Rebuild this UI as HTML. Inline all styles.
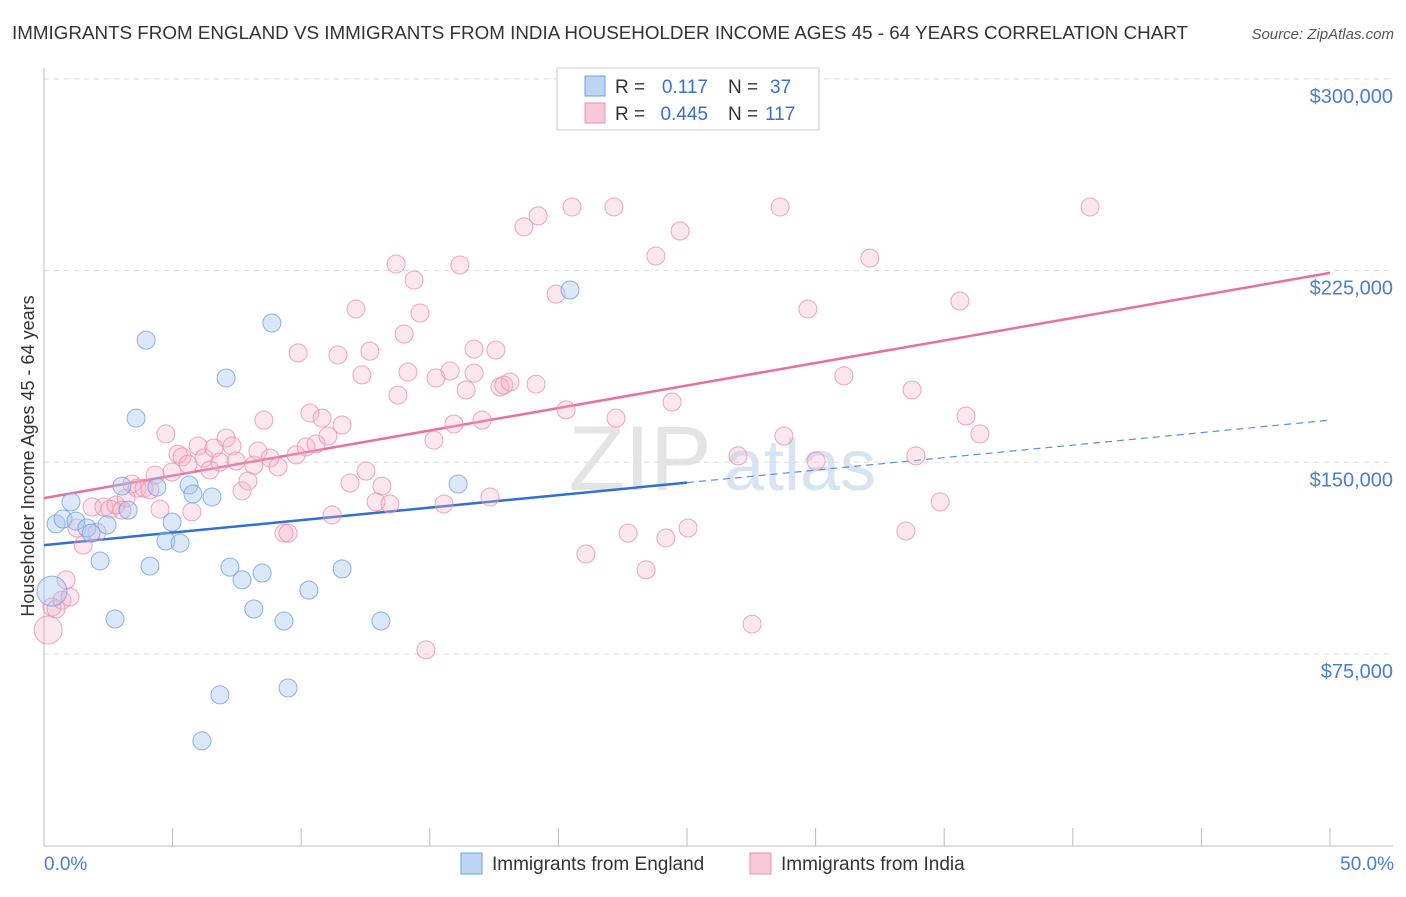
<!DOCTYPE html>
<html><head><meta charset="utf-8"><style>
body{margin:0;background:#fff;font-family:"Liberation Sans",sans-serif;}
svg text{font-family:"Liberation Sans",sans-serif;}
</style></head><body>
<svg id="chart" width="1406" height="892">
<text x="12" y="39" font-size="18" fill="#333" textLength="1176" lengthAdjust="spacingAndGlyphs">IMMIGRANTS FROM ENGLAND VS IMMIGRANTS FROM INDIA HOUSEHOLDER INCOME AGES 45 - 64 YEARS CORRELATION CHART</text>
<text x="1394" y="39" font-size="15" fill="#555" text-anchor="end" font-style="italic">Source: ZipAtlas.com</text>
<text x="640" y="490" font-size="92" fill="#e4e4e4" text-anchor="middle" font-family="Liberation Serif">ZIP</text>
<text x="800" y="490" font-size="72" fill="#d6e4f4" text-anchor="middle">atlas</text>
<g id="grid"></g><g id="axes"></g><g id="trend"></g><g id="pts"></g>
<text transform="translate(34,456) rotate(-90)" font-size="18" fill="#333" text-anchor="middle">Householder Income Ages 45 - 64 years</text>
<text x="44" y="870" font-size="19" fill="#4a7fd0">0.0%</text>
<text x="1394" y="870" font-size="19" fill="#4a7fd0" text-anchor="end">50.0%</text>
<g>
<rect x="557" y="68" width="262" height="62" fill="#fff" stroke="#ccc"/>
<rect x="585" y="76" width="20" height="20" fill="#bcd5f5" stroke="#6fa0e0"/>
<rect x="585" y="103" width="20" height="20" fill="#f9c8d8" stroke="#ec8fb0"/>
<text x="615" y="93" font-size="19" fill="#333">R = </text><text x="708" y="93" font-size="19" fill="#3a70c8" text-anchor="end">0.117</text>
<text x="728" y="93" font-size="19" fill="#333">N = </text><text x="770" y="93" font-size="19" fill="#3a70c8">37</text>
<text x="615" y="120" font-size="19" fill="#333">R = </text><text x="708" y="120" font-size="19" fill="#3a70c8" text-anchor="end">0.445</text>
<text x="728" y="120" font-size="19" fill="#333">N = </text><text x="765" y="120" font-size="19" fill="#3a70c8">117</text>
</g>
<g><rect x="461" y="853" width="21" height="21" fill="#bcd5f5" stroke="#6fa0e0"/><text x="492" y="870" font-size="19" fill="#333">Immigrants from England</text></g>
<g><rect x="750" y="853" width="21" height="21" fill="#f9c8d8" stroke="#ec8fb0"/><text x="781" y="870" font-size="19" fill="#333">Immigrants from India</text></g>
</svg>
<script>
const yTicks=[75,150,225,300];
const yTickLabels=["$75,000","$150,000","$225,000","$300,000"];
const xTicks=[0,5,10,15,20,25,30,35,40,45,50];
const engX=[0.31,0.47,0.74,1.05,1.24,1.67,1.83,2.18,2.45,2.76,3.03,3.27,3.58,3.97,4.12,4.39,4.74,4.98,5.29,5.64,5.79,6.53,6.84,7.08,7.23,7.70,8.16,8.48,8.86,9.33,9.49,10.30,11.59,13.10,16.10,20.45,6.14];
const engY=[99.6,125.9,127.8,134.5,127.0,124.3,122.3,111.4,125.5,88.7,140.7,131.3,167.3,197.8,109.4,140.3,119.2,126.6,118.4,141.1,137.6,136.4,59.0,183.0,109.0,104.0,92.6,106.7,204.5,87.9,61.7,100.0,108.3,87.9,141.5,217.4,41.0];
const indX=[0.16,0.31,0.47,0.70,0.86,1.01,1.28,1.52,1.87,2.06,2.33,2.57,2.80,3.03,3.19,3.42,3.62,3.89,4.12,4.32,4.51,4.74,4.98,5.21,5.37,5.60,5.75,5.99,6.22,6.45,6.61,6.84,7.08,7.31,7.47,7.70,7.93,8.16,8.32,8.55,8.79,9.10,9.33,9.49,9.80,9.88,10.19,10.34,10.58,10.81,11.04,11.20,11.43,11.59,11.90,12.13,12.36,12.52,12.67,12.91,13.14,13.45,13.69,13.76,14.00,14.15,14.39,14.62,14.85,15.16,15.24,15.55,15.79,15.94,16.17,16.41,16.72,16.72,17.03,17.34,17.57,17.73,17.88,18.12,18.66,19.13,19.21,19.91,20.30,20.53,21.07,22.16,22.24,22.71,23.41,23.79,24.18,24.42,24.73,25.04,26.98,27.53,28.62,28.77,29.70,30.02,31.10,32.11,33.51,33.75,33.90,34.84,35.61,35.85,36.39,40.67];
const indY=[84.4,93.4,92.6,96.1,104.0,97.3,124.3,117.6,132.5,122.7,132.5,131.7,133.3,131.3,136.0,141.5,139.9,139.9,139.2,145.0,131.7,161.1,146.2,153.2,152.1,149.3,130.6,156.4,151.7,147.0,155.6,150.1,159.5,156.4,150.5,138.8,142.7,148.9,154.4,166.5,151.7,148.2,122.3,122.3,152.9,192.8,156.0,169.3,157.2,167.3,160.3,129.4,192.0,164.6,141.9,210.0,184.2,146.6,193.5,134.5,140.7,133.7,227.6,176.3,200.2,185.3,221.3,208.4,76.6,158.7,183.0,133.7,185.7,165.0,227.2,178.3,194.3,184.9,166.5,136.4,193.9,179.5,180.2,181.4,242.1,180.6,246.4,215.8,170.5,249.9,114.1,249.9,167.3,122.3,107.9,230.7,120.4,173.6,240.5,124.3,152.5,86.7,249.9,160.3,210.0,150.5,183.8,229.9,123.1,178.3,152.5,134.5,213.1,168.1,161.1,249.9];
const engTrend=[117.6,0.978];
const indTrend=[136.0,1.762];
const NS="http://www.w3.org/2000/svg";
const X=v=>44+v/50*1286;
const Y=v=>654-(v-75)/75*191.7;
function mk(t,a,p){const e=document.createElementNS(NS,t);for(const k in a)e.setAttribute(k,a[k]);p.appendChild(e);return e;}
const grid=document.getElementById('grid'),axes=document.getElementById('axes'),tr=document.getElementById('trend'),pts=document.getElementById('pts');
yTicks.forEach((t,i)=>{
 const l=mk('line',{x1:44,x2:1393,y1:Y(t),y2:Y(t),stroke:'#ddd','stroke-dasharray':'5,5'},grid);
 
 
 const tx=mk('text',{x:1393,y:Y(t)+24,'font-size':20,fill:'#4a7fd0','text-anchor':'end'},axes);
 tx.textContent=yTickLabels[i];
 
 
});
const ya=mk('line',{x1:44,x2:44,y1:68,y2:846,stroke:'#bbb'},axes);


const xa=mk('line',{x1:44,x2:1393,y1:846,y2:846,stroke:'#bbb'},axes);


xTicks.forEach(t=>{const l=mk('line',{x1:X(t),x2:X(t),y1:828,y2:846,stroke:'#bbb'},axes);
 
 });
function dot(x,y,r,f,s,name){const c=mk('circle',{cx:X(x),cy:Y(y),r:r,fill:f,stroke:s,'stroke-width':1,'stroke-opacity':0.8},pts);
 
 }
indX.forEach((x,i)=>dot(x,indY[i],i==0?14:9,'rgba(246,175,200,0.3)','#ec8fb0','india-point'));
engX.forEach((x,i)=>dot(x,engY[i],i==0?15:9,'rgba(165,198,240,0.4)','#6fa0e0','england-point'));
const f=(tr_,x)=>tr_[0]+tr_[1]*x;
let l1=mk('line',{x1:X(0),y1:Y(f(engTrend,0)),x2:X(25),y2:Y(f(engTrend,25)),stroke:'#2f6fd6','stroke-width':2.5},tr);


let l2=mk('line',{x1:X(25),y1:Y(f(engTrend,25)),x2:X(50),y2:Y(f(engTrend,50)),stroke:'#5a8fe0','stroke-width':1.2,'stroke-dasharray':'7,5'},tr);


let l3=mk('line',{x1:X(0),y1:Y(f(indTrend,0)),x2:X(50),y2:Y(f(indTrend,50)),stroke:'#e9709a','stroke-width':2.5},tr);


</script>
</body></html>
